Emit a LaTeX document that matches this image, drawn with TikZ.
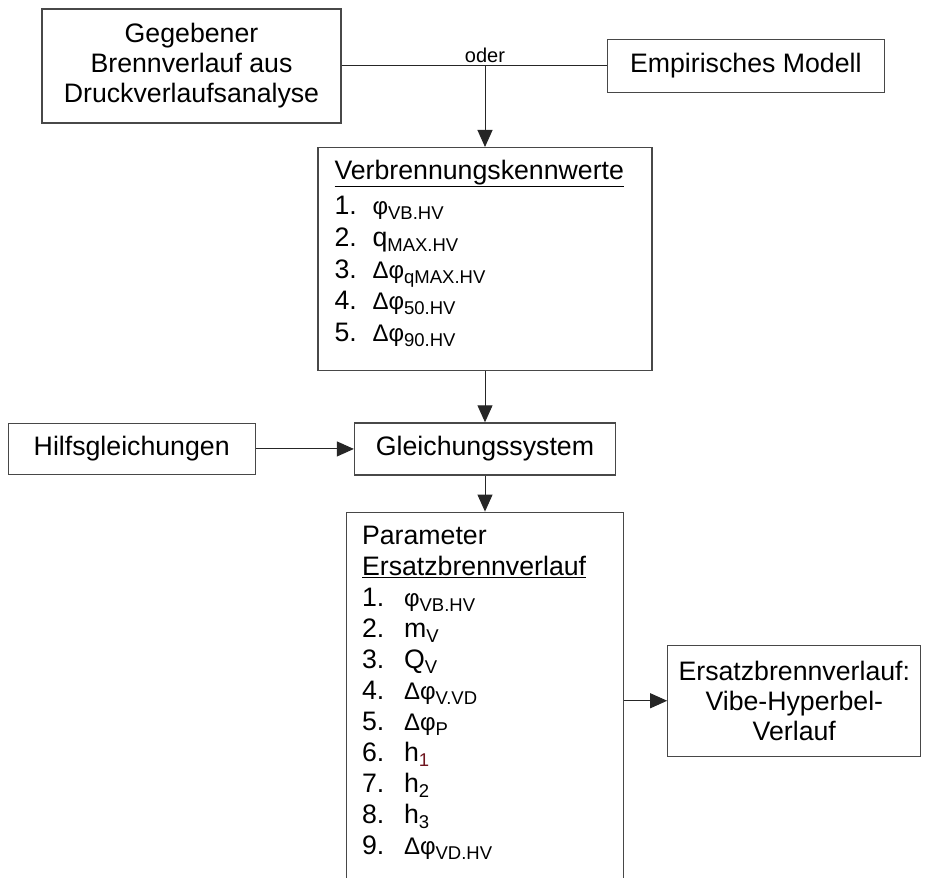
\documentclass[tikz,border=0pt]{standalone}
\usepackage{fontspec}
\setmainfont{Liberation Sans}
\usetikzlibrary{positioning,arrows.meta,calc}
\definecolor{boxgray}{RGB}{72,72,72}
\definecolor{subred}{RGB}{110,20,30}
% index, greek letter and list number
\newcommand{\idx}[1]{\raisebox{-5pt}{\fontsize{18.5}{18.5}\selectfont #1}}
\newcommand{\gr}[1]{{\fontsize{24}{24}\selectfont #1}}
\newcommand{\itm}[2][38pt]{\makebox[#1][l]{#2.}}

\begin{document}
\begin{tikzpicture}[
    x=1pt, y=-1pt,
    font=\fontsize{26.7}{30}\selectfont,
    box/.style={rectangle, draw=boxgray, line width=1.3pt, inner sep=0pt, align=center},
    listtext/.style={anchor=north west, inner sep=0pt, align=left},
    plain/.style={draw=black!85, line width=1pt},
    flow/.style={draw=black!85, line width=1pt, -{Triangle[length=17pt, width=15pt]}},
    flowlabel/.style={font=\fontsize{20}{20}\selectfont, inner sep=1pt}
]
    \useasboundingbox (0,0) rectangle (925,877);

    % top row
    \node[box, minimum width=299pt, minimum height=114pt] (given) at (191.5,66) {Gegebener\\Brennverlauf aus\\Druckverlaufsanalyse};
    \node[box, minimum width=277pt, minimum height=53pt, right=265pt of given] (emp) {Empirisches Modell};

    % combustion values
    \node[box, minimum width=334pt, minimum height=223pt, anchor=north] (kenn) at (485,147) {};
    \node[listtext, font=\fontsize{26.7}{31.75}\selectfont, xshift=17pt, yshift=-12.5pt] (kennText) at (kenn.north west) {%
        \underline{Verbrennungskennwerte}\\[3.75pt]
        \itm{1}\gr{φ}\idx{VB.HV}\\
        \itm{2}q\idx{MAX.HV}\\
        \itm{3}\gr{Δφ}\idx{qMAX.HV}\\
        \itm{4}\gr{Δφ}\idx{50.HV}\\
        \itm{5}\gr{Δφ}\idx{90.HV}};

    % equation system
    \node[box, minimum width=261pt, minimum height=52pt, below=51pt of kenn] (gls) {Gleichungssystem};
    \node[box, minimum width=247pt, minimum height=51pt, left=98pt of gls] (hilfs) {Hilfsgleichungen};

    % parameters
    \node[box, minimum width=277pt, minimum height=375pt, below=36pt of gls, anchor=north] (param) {};
    \node[listtext, font=\fontsize{26.7}{31}\selectfont, xshift=16pt, yshift=-14.5pt] (paramText) at (param.north west) {%
        Parameter\\
        \underline{Ersatzbrennverlauf}\\
        \itm[42pt]{1}\gr{φ}\idx{VB.HV}\\
        \itm[42pt]{2}m\idx{V}\\
        \itm[42pt]{3}Q\idx{V}\\
        \itm[42pt]{4}\gr{Δφ}\idx{V.VD}\\
        \itm[42pt]{5}\gr{Δφ}\idx{P}\\
        \itm[42pt]{6}h\idx{\color{subred}1}\\
        \itm[42pt]{7}h\idx{2}\\
        \itm[42pt]{8}h\idx{3}\\
        \itm[42pt]{9}\gr{Δφ}\idx{VD.HV}};

    \node[box, minimum width=253pt, minimum height=111pt, right=43pt of param.north east, anchor=north west, yshift=-133pt] (ersatz) {Ersatzbrennverlauf:\\Vibe-Hyperbel-\\Verlauf};

    % connectors
    \coordinate (split) at (kenn.north |- given.east);
    \draw[plain] (given.east) -- (emp.west);
    \node[flowlabel, above=2pt of split] (oder) {oder};
    \draw[flow] (split) -- (kenn.north);
    \draw[flow] (kenn.south) -- (gls.north);
    \draw[flow] (hilfs.east) -- (gls.west);
    \draw[flow] (gls.south) -- (param.north);
    \draw[flow] (param.east |- ersatz.west) -- (ersatz.west);
\end{tikzpicture}
\end{document}
